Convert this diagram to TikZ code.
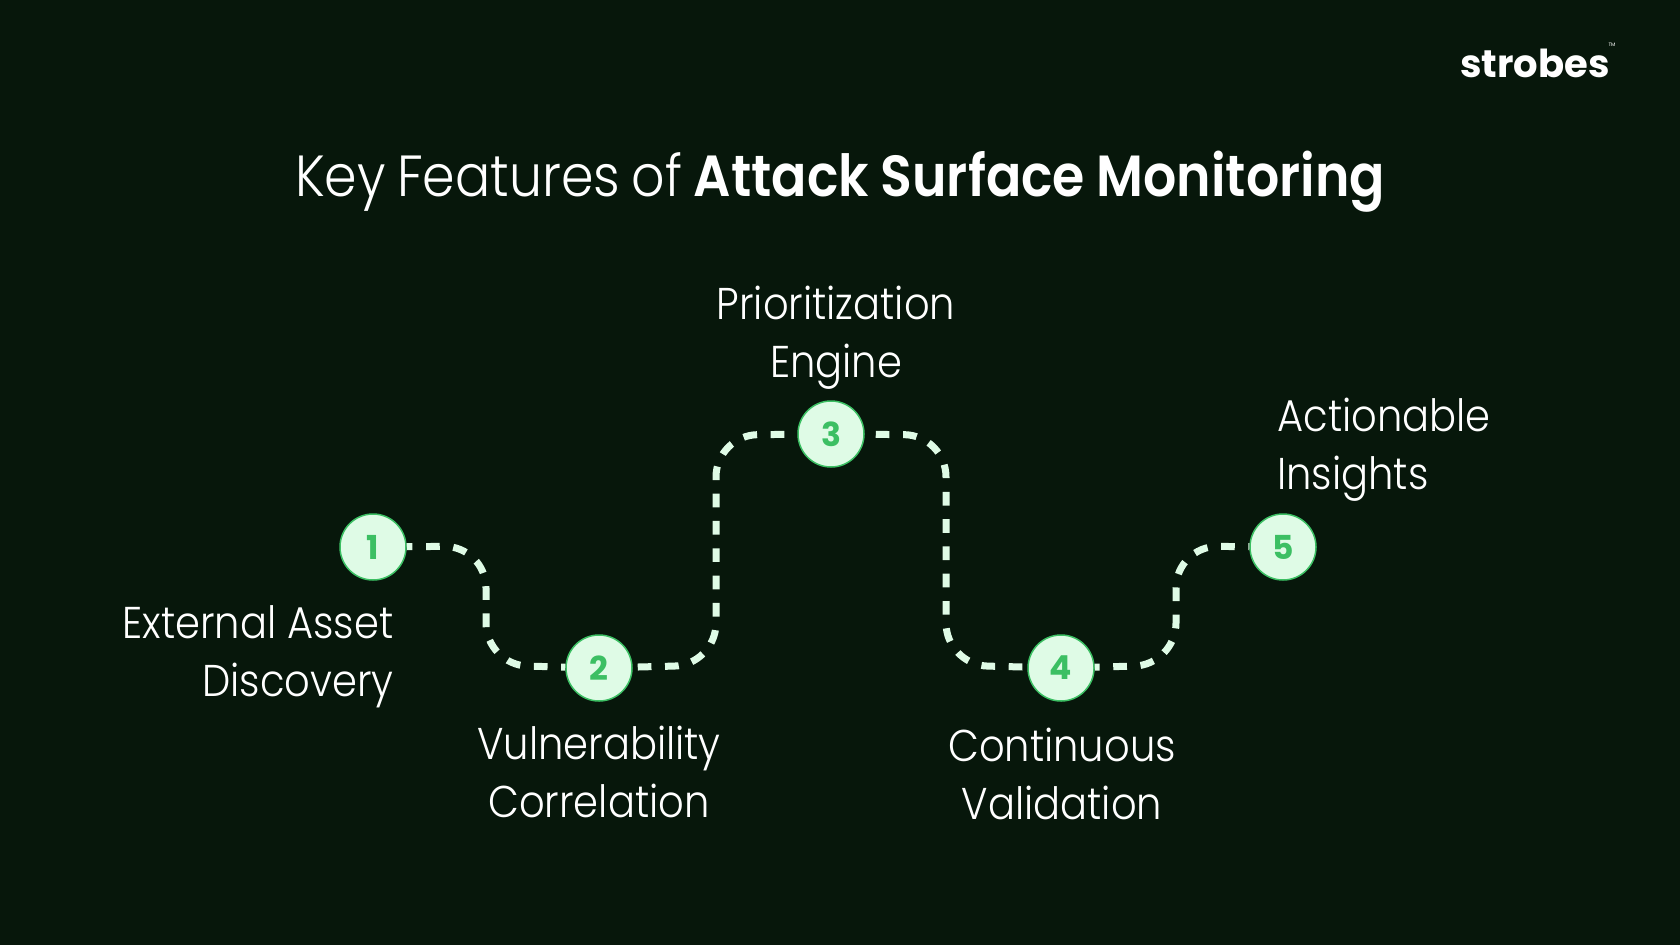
\documentclass[tikz,border=0pt]{standalone}
\usepackage{fontspec}
\setmainfont[FakeStretch=0.9,UprightFont={Poppins Light},BoldFont={Poppins SemiBold}]{Poppins}
\newfontfamily\logofont{Poppins}
\newcommand{\tightwords}{\spaceskip=11.6pt\relax}
\definecolor{pagebg}{HTML}{07170B}
\definecolor{stepfill}{HTML}{DFFBE6}
\definecolor{stepgreen}{HTML}{3CBF63}
\tikzset{
  stepdot/.style={circle,draw=stepgreen,line width=1.5pt,fill=stepfill,minimum size=66pt,inner sep=0pt,text=stepgreen,font=\logofont\fontsize{33}{36}\selectfont\bfseries},
  flow/.style={draw=stepfill,line width=7pt,dash pattern=on 13.7pt off 13.6pt,rounded corners=42pt},
  label/.style={text=white,font=\fontsize{44.5}{58}\selectfont,inner sep=0pt}
}
\begin{document}
\begin{tikzpicture}[x=1pt,y=-1pt]
    \fill[pagebg] (0,0) rectangle (1680,945);
    \useasboundingbox (0,0) rectangle (1680,945);
    \node[text=white,inner sep=0pt,font=\logofont\fontsize{38.5}{46}\selectfont\bfseries] (logo) at (1535, 63) {strobes};
    \node[text=white,inner sep=0pt,font=\logofont\fontsize{5}{6}\selectfont] (tm) at (1612, 45) {TM};
    \node[text=white,inner sep=0pt,font=\fontsize{58}{68}\selectfont] (title) at (840, 182) {\tightwords Key Features of \textbf{Attack Surface Monitoring}};
    \node[stepdot] (a) at (373, 547) {1};
    \node[stepdot] (b) at (599, 668) {2};
    \node[stepdot] (c) at (831, 434) {3};
    \node[stepdot] (d) at (1061, 668) {4};
    \node[stepdot] (e) at (1283, 547) {5};
    \node[label,align=right] (p) at (258, 657) {External Asset\\Discovery};
    \node[label,align=center] (q) at (599, 772) {Vulnerability\\Correlation};
    \node[label,align=center] (r) at (836, 338) {Prioritization\\Engine};
    \node[label,align=center] (s) at (1062, 773.5) {Continuous\\Validation};
    \node[label,align=left] (t) at (1384, 449.5) {Actionable\\Insights};
    \coordinate (ab1) at (486, 546);
    \coordinate (ab2) at (486, 665);
    \coordinate (bc1) at (716, 665);
    \coordinate (bc2) at (716, 435);
    \coordinate (cd1) at (946, 435);
    \coordinate (cd2) at (946, 665);
    \coordinate (de1) at (1176, 665);
    \coordinate (de2) at (1176, 546);
    \draw[flow,dash phase=8pt] (a) -- (ab1) -- (ab2) -- (b);
    \draw[flow,dash phase=22.3pt] (b) -- (bc1) -- (bc2) -- (c);
    \draw[flow,dash phase=16.3pt] (c) -- (cd1) -- (cd2) -- (d);
    \draw[flow,dash phase=8.8pt] (d) -- (de1) -- (de2) -- (e);
  \end{tikzpicture}
\end{document}
